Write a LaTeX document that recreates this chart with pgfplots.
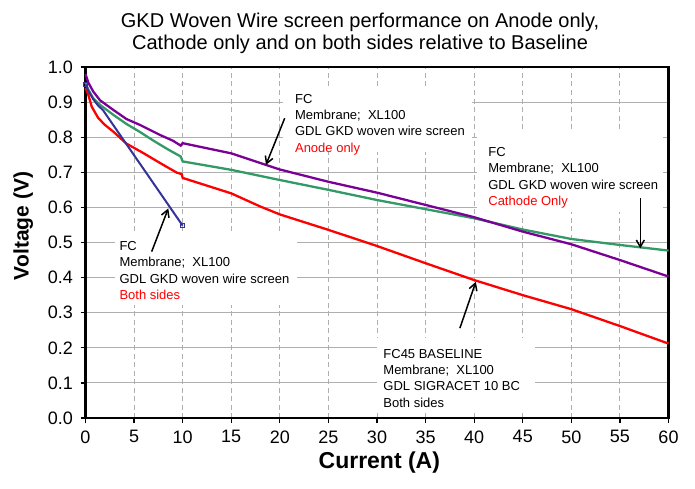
\documentclass[border=0pt]{standalone}
\usepackage{fontspec}
\setmainfont{Liberation Sans}
\usepackage{pgfplots}
\pgfplotsset{compat=1.18}
\usetikzlibrary{arrows.meta}
\definecolor{cpurple}{RGB}{122,0,150}
\definecolor{cgreen}{RGB}{51,153,102}
\definecolor{cred}{RGB}{255,0,0}
\definecolor{cblue}{RGB}{51,51,153}
\definecolor{cgrid}{RGB}{175,175,175}
\begin{document}
\begin{tikzpicture}
\path[use as bounding box] (-85.5pt,-70pt) rectangle (609.5pt,418pt);
\begin{axis}[
  at={(0pt,0pt)}, anchor=south west,
  scale only axis, width=583pt, height=351pt,
  xmin=0, xmax=60, ymin=0, ymax=1,
  xtick={0,5,10,15,20,25,30,35,40,45,50,55,60},
  ytick={0,0.1,0.2,0.3,0.4,0.5,0.6,0.7,0.8,0.9,1.0},
  /pgf/number format/assume math mode=true,
  ticklabel style={font=\fontsize{18}{18}\selectfont},
  xticklabel style={yshift=-4pt},
  yticklabel style={xshift=-4pt, /pgf/number format/.cd, fixed, fixed zerofill, precision=1},
  tick align=outside, major tick length=5pt,
  tick style={black, line width=1.2pt},
  xtick pos=bottom, ytick pos=left,
  axis line style={black, line width=2.4pt},
  ymajorgrids, xmajorgrids,
  y grid style={cgrid, line width=1.1pt},
  x grid style={cgrid, line width=1.0pt, dash pattern=on 5pt off 3.5pt},
  xlabel={Current (A)},
  ylabel={Voltage (V)},
  xlabel style={font=\bfseries\fontsize{23}{23}\selectfont, at={(axis description cs:0.504,-0.128)}, anchor=center},
  ylabel style={font=\bfseries\fontsize{21}{21}\selectfont, at={(axis description cs:-0.107,0.547)}, anchor=center},
  title={GKD Woven Wire screen performance on Anode only,\\Cathode only and on both sides relative to Baseline},
  title style={at={(axis description cs:0.471,1.078)}, anchor=center, align=center, font=\fontsize{20}{22}\selectfont},
  clip=false,
]
% white label boxes
\fill[white] (axis cs:3.03,0.322) rectangle (axis cs:21.76,0.521);
\fill[white] (axis cs:20.32,0.758) rectangle (axis cs:39.76,0.943);
\fill[white] (axis cs:40.28,0.587) rectangle (axis cs:59.41,0.815);
\fill[white] (axis cs:29.99,0.017) rectangle (axis cs:46.24,0.228);

% Baseline (red)
\addplot[cred, line width=2.3pt, no marks] coordinates {
(0,0.94) (0.3,0.92) (0.64,0.887) (1.3,0.855) (2,0.835) (2.9,0.815) (4.2,0.782)
(6,0.754) (7.7,0.726) (9.4,0.699) (9.9,0.695) (10,0.684) (15,0.640) (17.95,0.603)
(20,0.580) (25,0.536) (30,0.490) (35,0.441) (40,0.393) (45,0.350) (50,0.310)
(55,0.262) (60,0.212)};

% Cathode only (green)
\addplot[cgreen, line width=2.3pt, no marks] coordinates {
(0,0.955) (0.3,0.935) (0.8,0.911) (1.5,0.892) (2.9,0.863) (4.2,0.838) (5.6,0.815)
(7,0.79) (8.5,0.765) (9.8,0.745) (10,0.731) (15,0.707) (20,0.678) (25,0.650)
(30,0.621) (35,0.595) (40,0.569) (45,0.537) (50,0.510) (55,0.493) (60,0.477)};

% Anode only (purple)
\addplot[cpurple, line width=2.3pt, no marks] coordinates {
(0,0.98) (0.3,0.955) (0.8,0.93) (1.5,0.905) (2.9,0.877) (4.2,0.852) (5.6,0.835)
(7.7,0.806) (9.0,0.79) (9.8,0.776) (10,0.783) (15,0.754) (20,0.708) (25,0.673)
(30,0.642) (35,0.607) (40,0.572) (45,0.531) (50,0.495) (55,0.450) (60,0.403)};

% Both sides (blue)
\addplot[cblue, line width=2pt, mark=square, mark size=2pt, mark indices={1,6},
  mark options={solid, line width=0.8pt, fill=white}] coordinates {
(0,0.95) (0.3,0.932) (0.8,0.908) (1.3,0.89) (1.8,0.877) (10,0.548)};

% annotations (anchor at baseline of last line)
\node[anchor=base west, align=left, inner sep=0pt, font=\fontsize{13}{16.4}\selectfont] at (axis cs:3.48,0.3376)
 {FC\\Membrane;\ \ XL100\\GDL GKD woven wire screen\\\textcolor{cred}{Both sides}};
\node[anchor=base west, align=left, inner sep=0pt, font=\fontsize{13}{16.4}\selectfont] at (axis cs:21.55,0.757)
 {FC\\Membrane;\ \ XL100\\GDL GKD woven wire screen\\\textcolor{cred}{Anode only}};
\node[anchor=base west, align=left, inner sep=0pt, font=\fontsize{13}{16.4}\selectfont] at (axis cs:41.44,0.605)
 {FC\\Membrane;\ \ XL100\\GDL GKD woven wire screen\\\textcolor{cred}{Cathode Only}};
\node[anchor=base west, align=left, inner sep=0pt, font=\fontsize{13}{16.2}\selectfont] at (axis cs:30.64,0.031)
 {FC45 BASELINE\\Membrane;\ \ XL100\\GDL SIGRACET 10 BC\\Both sides};

\draw[black, line width=1.5pt, -{Straight Barb[length=7pt,width=8pt,line width=1.5pt]}] (axis cs:6.81,0.474) -- (axis cs:8.52,0.597);
\draw[black, line width=1.5pt, -{Straight Barb[length=7pt,width=8pt,line width=1.5pt]}] (axis cs:20.5,0.854) -- (axis cs:18.57,0.721);
\draw[black, line width=1.5pt, -{Straight Barb[length=7pt,width=8pt,line width=1.5pt]}] (axis cs:57.1,0.626) -- (axis cs:57.1,0.483);
\draw[black, line width=1.5pt, -{Straight Barb[length=7pt,width=8pt,line width=1.5pt]}] (axis cs:38.53,0.256) -- (axis cs:40.17,0.388);
\end{axis}
\end{tikzpicture}
\end{document}
